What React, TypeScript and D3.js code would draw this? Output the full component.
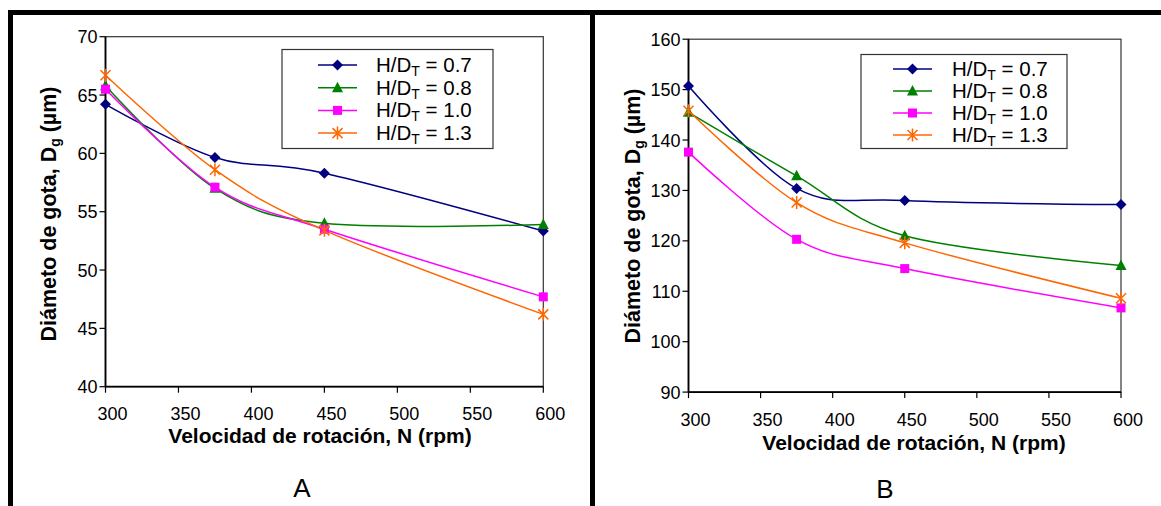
import React from "react";
import * as d3 from "d3";

// ---------- data ----------
const rpm = [300, 375, 450, 600];
const seriesNames = ["0.7", "0.8", "1.0", "1.3"];
const seriesColors = ["#000080", "#008000", "#FF00FF", "#FF6600"];
const markerShapes = ["diamond", "triangle", "square", "star"];

const panelA_h07 = [64.2, 59.65, 58.3, 53.35];
const panelA_h08 = [65.8, 57.0, 54.0, 53.9];
const panelA_h10 = [65.5, 57.1, 53.5, 47.7];
const panelA_h13 = [66.7, 58.6, 53.4, 46.2];

const panelB_h07 = [150.7, 130.4, 128.0, 127.2];
const panelB_h08 = [145.5, 132.9, 121.0, 115.1];
const panelB_h10 = [137.6, 120.3, 114.5, 106.7];
const panelB_h13 = [145.8, 127.6, 119.6, 108.6];

const xTicks = [300, 350, 400, 450, 500, 550, 600];
const yTicksA = [40, 45, 50, 55, 60, 65, 70];
const yTicksB = [90, 100, 110, 120, 130, 140, 150, 160];

const xTitleText = "Velocidad de rotación, N (rpm)";
const yTitleMain = "Diámeto de gota, D";
const yTitleSub = "g";
const yTitleEnd = " (µm)";

const FONT = "'Liberation Sans', Arial, Helvetica, sans-serif";

function Marker({ shape, x, y, color }: { shape: string; x: number; y: number; color: string }) {
  const t = `translate(${x},${y})`;
  if (shape === "diamond") return <path transform={t} d="M0,-5.5L5.5,0L0,5.5L-5.5,0Z" fill={color} />;
  if (shape === "triangle") return <path transform={t} d="M0,-6L5.5,4.5L-5.5,4.5Z" fill={color} />;
  if (shape === "square") return <rect transform={t} x={-4.5} y={-4.5} width={9} height={9} fill={color} />;
  return (
    <path transform={t} d="M-5,-5L5,5M-5,5L5,-5M0,-6.5L0,6.5" stroke={color} strokeWidth={1.5} fill="none" />
  );
}

type ChartProps = {
  xRange: [number, number];
  yRange: [number, number];
  yDomain: [number, number];
  yTicks: number[];
  series: number[][];
  legend: { x: number; y: number; w: number; h: number; row0: number; dy: number; lx0: number; lx1: number; tx: number };
  xLabelY: number;
  xTitle: { x: number; y: number };
  yTitle: { x: number; y: number };
  letter: { x: number; y: number; text: string };
};

function Chart(p: ChartProps) {
  const xs = d3.scaleLinear().domain([300, 600]).range(p.xRange);
  const ys = d3.scaleLinear().domain(p.yDomain).range(p.yRange);
  const line = d3
    .line<number>()
    .x((_, i) => xs(rpm[i]))
    .y((d) => ys(d))
    .curve(d3.curveCardinal.tension(0));
  const [x0, x1] = p.xRange;
  const [yb, yt] = p.yRange;
  return (
    <g fontFamily={FONT}>
      {/* plot border */}
      <rect x={x0} y={yt} width={x1 - x0} height={yb - yt} fill="none" stroke="#333" strokeWidth={1.2} />
      {/* axes */}
      <line x1={x0} y1={yt} x2={x0} y2={yb} stroke="#000" strokeWidth={1.8} />
      <line x1={x0} y1={yb} x2={x1} y2={yb} stroke="#000" strokeWidth={1.8} />
      {p.yTicks.map((t) => (
        <g key={"y" + t}>
          <line x1={x0 - 6} x2={x0} y1={ys(t)} y2={ys(t)} stroke="#000" strokeWidth={1.2} />
          <text x={x0 - 8} y={ys(t)} dy="0.36em" textAnchor="end" fontSize={18} fill="#000">
            {t}
          </text>
        </g>
      ))}
      {xTicks.map((t) => (
        <g key={"x" + t}>
          <line x1={xs(t)} x2={xs(t)} y1={yb} y2={yb + 6} stroke="#000" strokeWidth={1.2} />
          <text x={xs(t) + 7} y={p.xLabelY} textAnchor="middle" fontSize={18} fill="#000">
            {t}
          </text>
        </g>
      ))}
      {/* series */}
      {p.series.map((s, i) => (
        <path key={"l" + i} d={line(s) || ""} fill="none" stroke={seriesColors[i]} strokeWidth={1.5} />
      ))}
      {p.series.map((s, i) =>
        s.map((v, j) => <Marker key={"m" + i + "-" + j} shape={markerShapes[i]} x={xs(rpm[j])} y={ys(v)} color={seriesColors[i]} />)
      )}
      {/* legend */}
      <rect x={p.legend.x} y={p.legend.y} width={p.legend.w} height={p.legend.h} fill="#fff" stroke="#333" strokeWidth={1.2} />
      {seriesNames.map((n, i) => {
        const cy = p.legend.row0 + i * p.legend.dy;
        return (
          <g key={"lg" + i}>
            <line x1={p.legend.lx0} x2={p.legend.lx1} y1={cy} y2={cy} stroke={seriesColors[i]} strokeWidth={1.5} />
            <Marker shape={markerShapes[i]} x={(p.legend.lx0 + p.legend.lx1) / 2} y={cy} color={seriesColors[i]} />
            <text x={p.legend.tx} y={cy + 7} fontSize={20.5} fill="#000">
              H/D
              <tspan fontSize={14} dy={4}>T</tspan>
              <tspan dy={-4}>{" = " + n}</tspan>
            </text>
          </g>
        );
      })}
      {/* titles */}
      <text x={p.xTitle.x} y={p.xTitle.y} textAnchor="middle" fontSize={21} fontWeight="bold" fill="#000">
        {xTitleText}
      </text>
      <text
        transform={`translate(${p.yTitle.x},${p.yTitle.y}) rotate(-90)`}
        textAnchor="middle"
        fontSize={21.5}
        fontWeight="bold"
        fill="#000"
      >
        {yTitleMain}
        <tspan fontSize={14} dy={4}>{yTitleSub}</tspan>
        <tspan dy={-4}>{yTitleEnd}</tspan>
      </text>
      <text x={p.letter.x} y={p.letter.y} textAnchor="middle" fontSize={26} fill="#000">
        {p.letter.text}
      </text>
    </g>
  );
}

export default function App() {
  return (
    <svg
      width={1161}
      height={506}
      style={{ position: "absolute", left: 0, top: 0, background: "#fff" }}
      xmlns="http://www.w3.org/2000/svg"
    >
      <rect x={0} y={0} width={1161} height={506} fill="#fff" />
      {/* frame */}
      <rect x={8} y={10} width={1153} height={5} fill="#000" />
      <rect x={8} y={10} width={5} height={496} fill="#000" />
      <rect x={590} y={10} width={5} height={496} fill="#000" />
      <Chart
        xRange={[105.5, 543.3]}
        yRange={[386.7, 36.7]}
        yDomain={[40, 70]}
        yTicks={yTicksA}
        series={[panelA_h07, panelA_h08, panelA_h10, panelA_h13]}
        legend={{ x: 282, y: 49.5, w: 211, h: 99, row0: 65, dy: 22.7, lx0: 318, lx1: 357, tx: 376 }}
        xLabelY={420}
        xTitle={{ x: 320, y: 443 }}
        yTitle={{ x: 56, y: 214 }}
        letter={{ x: 302, y: 497, text: "A" }}
      />
      <Chart
        xRange={[688.5, 1121]}
        yRange={[392.1, 39.2]}
        yDomain={[90, 160]}
        yTicks={yTicksB}
        series={[panelB_h07, panelB_h08, panelB_h10, panelB_h13]}
        legend={{ x: 861, y: 54.5, w: 206, h: 94, row0: 69, dy: 22, lx0: 893, lx1: 932, tx: 952 }}
        xLabelY={426}
        xTitle={{ x: 914, y: 450 }}
        yTitle={{ x: 640, y: 216 }}
        letter={{ x: 885, y: 498, text: "B" }}
      />
    </svg>
  );
}
